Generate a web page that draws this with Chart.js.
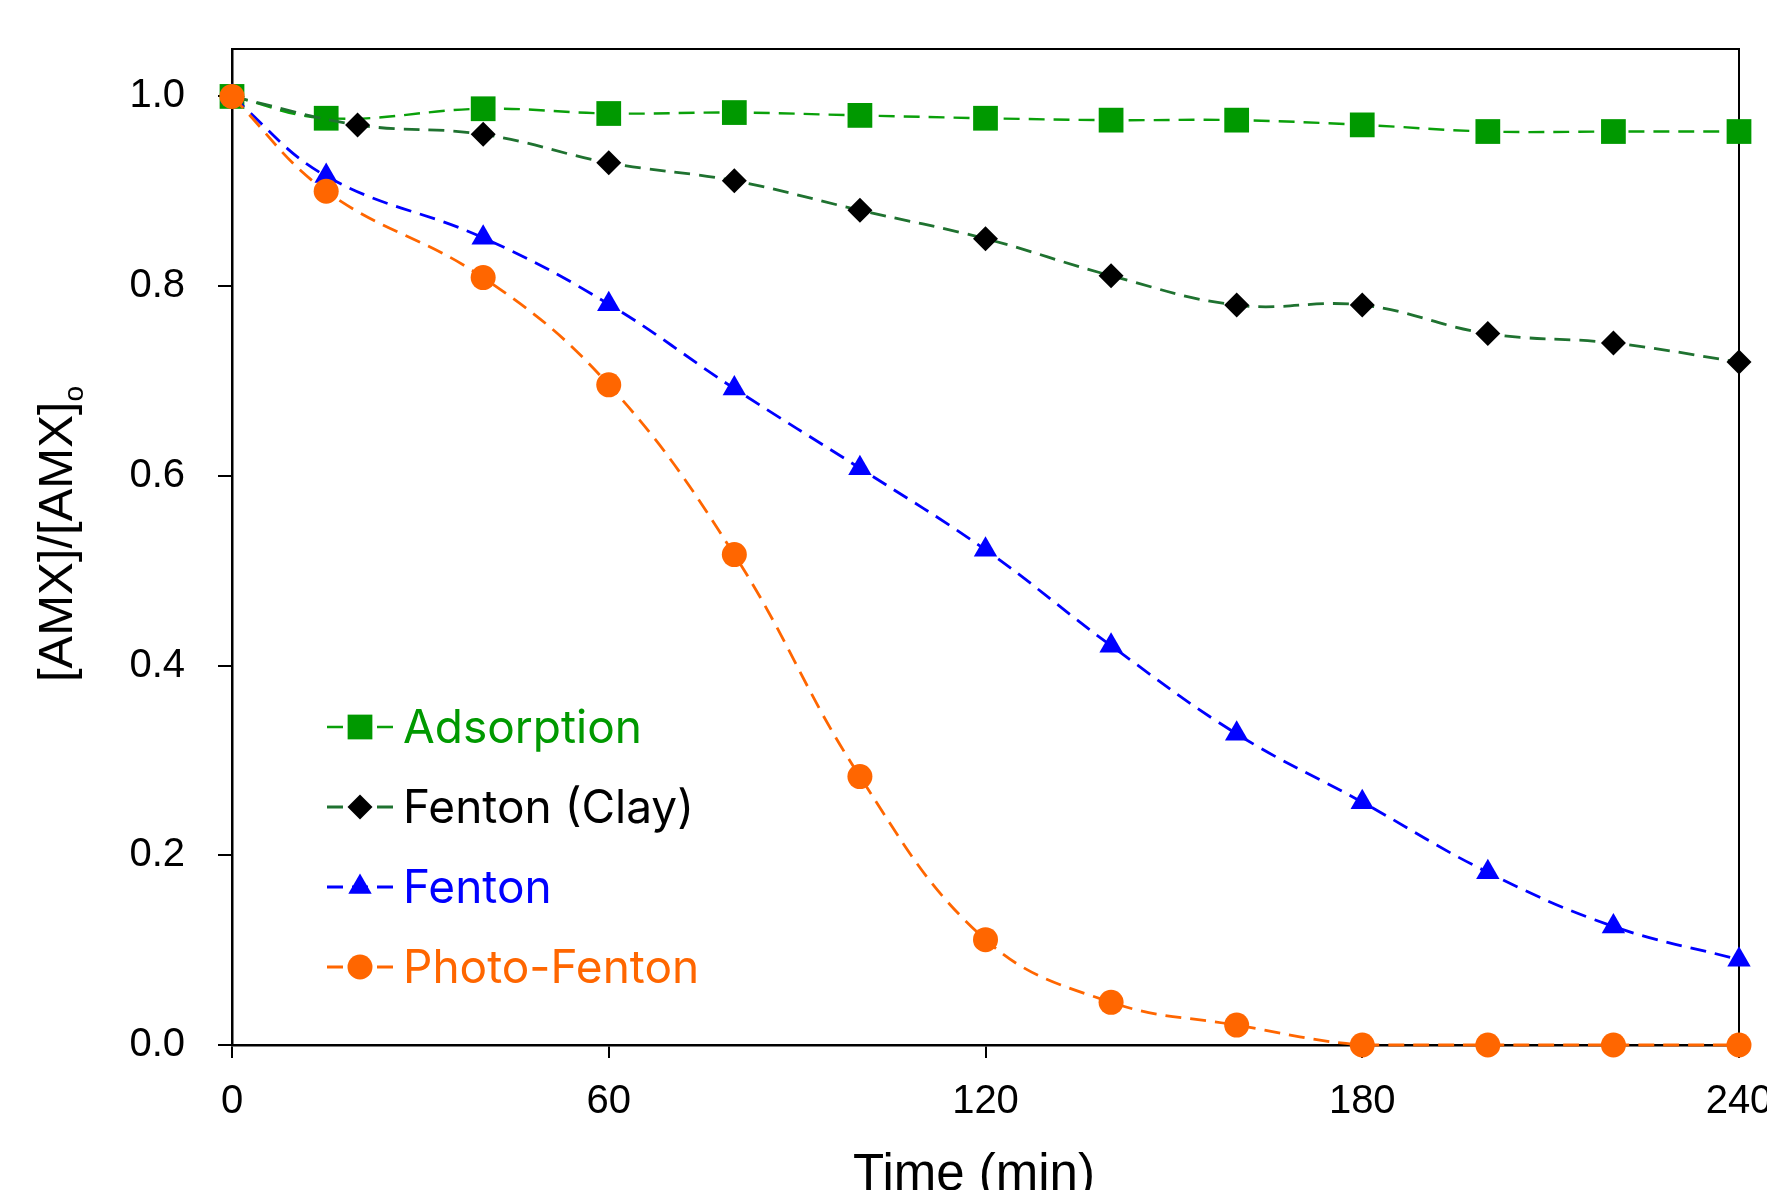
<!DOCTYPE html>
<html>
<head>
<meta charset="utf-8">
<script src="https://cdn.jsdelivr.net/npm/chart.js@4.4.1/dist/chart.umd.min.js"></script>
<style>
  html, body { margin: 0; padding: 0; background: #fff; overflow: hidden; }
  #wrap { width: 1800px; height: 1240px; }
</style>
</head>
<body>
<div id="wrap"><canvas id="chart" width="1800" height="1240"></canvas></div>
<script>
// sampling times (min) for each run
const timeAdsorption = [0, 15, 40, 60, 80, 100, 120, 140, 160, 180, 200, 220, 240];
const timeClay = [0, 20, 40, 60, 80, 100, 120, 140, 160, 180, 200, 220, 240];
const timeFenton = [0, 15, 40, 60, 80, 100, 120, 140, 160, 180, 200, 220, 240];
const timePhoto = [0, 15, 40, 60, 80, 100, 120, 140, 160, 180, 200, 220, 240];

// [AMX]/[AMX]o
const adsorption = [1.0, 0.977, 0.987, 0.982, 0.983, 0.980, 0.977, 0.975, 0.975, 0.970, 0.963, 0.963, 0.963];
const fentonClay = [1.0, 0.970, 0.960, 0.930, 0.911, 0.880, 0.850, 0.811, 0.780, 0.780, 0.750, 0.740, 0.720];
const fenton = [1.0, 0.916, 0.851, 0.781, 0.692, 0.608, 0.522, 0.421, 0.328, 0.256, 0.182, 0.125, 0.090];
const photoFenton = [1.0, 0.900, 0.809, 0.696, 0.517, 0.283, 0.111, 0.045, 0.021, 0.0, 0.0, 0.0, 0.0];

const seriesLabels = ['Adsorption', 'Fenton (Clay)', 'Fenton', 'Photo-Fenton'];
const xTicks = [0, 60, 120, 180, 240];
const yTicks = [0.0, 0.2, 0.4, 0.6, 0.8, 1.0];

const xTitle = 'Time (min)';
const yTitle = '[AMX]/[AMX]';
const yTitleSub = 'o';

const FONT = '"Liberation Sans", Arial, sans-serif';
const LEGEND_FONT = 'Inter, "Noto Sans", sans-serif';
const DASH = [16, 9];

function toPoints(xs, ys) {
    return xs.map((x, i) => ({ x: x, y: ys[i] }));
}

function series(label, xs, ys, opts) {
    return Object.assign({
        label: label,
        data: toPoints(xs, ys),
        showLine: true,
        borderDash: DASH,
        borderWidth: 2.8,
        tension: 0.4,
        clip: false,
        pointBorderWidth: 0,
        pointHoverRadius: 0
    }, opts);
}

const datasets = [
    series(seriesLabels[0], timeAdsorption, adsorption, {
        borderColor: '#0aa00a', borderWidth: 2.4,
        pointStyle: 'rect', pointRadius: 17.5,
        pointBackgroundColor: '#009900', pointBorderColor: '#009900',
        textColor: '#009900', order: 3
    }),
    series(seriesLabels[1], timeClay, fentonClay, {
        borderColor: '#1f7230',
        pointStyle: 'rectRot', pointRadius: 12.5,
        pointBackgroundColor: '#000000', pointBorderColor: '#000000',
        textColor: '#000000', order: 2
    }),
    series(seriesLabels[2], timeFenton, fenton, {
        borderColor: '#0000ff',
        pointStyle: 'triangle', pointRadius: 13.5,
        pointBackgroundColor: '#0000ff', pointBorderColor: '#0000ff',
        textColor: '#0000ff', order: 1
    }),
    series(seriesLabels[3], timePhoto, photoFenton, {
        borderColor: '#ff6600',
        pointStyle: 'circle', pointRadius: 12.5,
        pointBackgroundColor: '#ff6600', pointBorderColor: '#ff6600',
        textColor: '#ff6600', order: 0
    })
];

// box frame, axis titles and the in-plot legend
const decorPlugin = {
    id: 'decor',
    beforeDatasetsDraw(chart) {
        const { ctx, chartArea: a } = chart;
        ctx.save();
        ctx.strokeStyle = '#000';
        ctx.lineWidth = 2;
        ctx.beginPath();
        ctx.moveTo(a.left, a.top);
        ctx.lineTo(a.right, a.top);
        ctx.lineTo(a.right, a.bottom);
        ctx.stroke();
        ctx.restore();
    },
    afterDraw(chart) {
        const { ctx } = chart;
        ctx.save();
        ctx.fillStyle = '#000';

        // x title
        ctx.font = '51px ' + FONT;
        ctx.textAlign = 'center';
        ctx.textBaseline = 'alphabetic';
        ctx.fillText(xTitle, 974, 1190);

        // y title with subscript
        ctx.font = '49px ' + FONT;
        const mainW = ctx.measureText(yTitle).width;
        ctx.font = '28px ' + FONT;
        const subW = ctx.measureText(yTitleSub).width;
        const total = mainW + subW;
        ctx.translate(72, 534);
        ctx.rotate(-Math.PI / 2);
        ctx.textAlign = 'left';
        ctx.font = '49px ' + FONT;
        ctx.fillText(yTitle, -total / 2, 0);
        ctx.font = '28px ' + FONT;
        ctx.fillText(yTitleSub, -total / 2 + mainW, 11);
        ctx.restore();

        // legend
        const rowY0 = 727, rowStep = 80;
        const lineX0 = 327, lineX1 = 395, markX = 360, textX = 403;
        chart.data.datasets.forEach((ds, i) => {
            const y = rowY0 + i * rowStep;
            ctx.save();
            ctx.strokeStyle = ds.borderColor;
            ctx.lineWidth = ds.borderWidth;
            ctx.setLineDash(DASH);
            ctx.beginPath();
            ctx.moveTo(lineX0, y);
            ctx.lineTo(lineX1, y);
            ctx.stroke();
            ctx.setLineDash([]);
            ctx.fillStyle = ds.pointBackgroundColor;
            ctx.strokeStyle = ds.pointBorderColor;
            Chart.helpers.drawPoint(ctx, {
                pointStyle: ds.pointStyle,
                radius: ds.pointRadius,
                rotation: 0,
                borderWidth: 0
            }, markX, y);
            ctx.fillStyle = ds.textColor;
            ctx.font = '46px ' + LEGEND_FONT;
            ctx.textAlign = 'left';
            ctx.textBaseline = 'alphabetic';
            ctx.fillText(ds.label, textX, y + 16);
            ctx.restore();
        });
    }
};

function zeroPad(scale) {
    scale.paddingLeft = 0;
    scale.paddingRight = 0;
    scale.paddingTop = 0;
    scale.paddingBottom = 0;
}

new Chart(document.getElementById('chart'), {
    type: 'line',
    data: { datasets: datasets },
    options: {
        responsive: false,
        devicePixelRatio: 1,
        animation: false,
        events: [],
        layout: { padding: { left: 0, top: 49, right: 61, bottom: 0 } },
        plugins: {
            legend: { display: false },
            tooltip: { enabled: false },
            title: { display: false }
        },
        scales: {
            x: {
                type: 'linear',
                min: 0,
                max: 240,
                afterBuildTicks(scale) {
                    scale.ticks = xTicks.map(v => ({ value: v }));
                },
                afterFit(scale) {
                    scale.height = 195;
                    zeroPad(scale);
                },
                grid: {
                    drawOnChartArea: false,
                    drawTicks: true,
                    tickLength: 13,
                    color: '#000',
                    lineWidth: 2
                },
                border: { display: true, color: '#000', width: 2.5 },
                ticks: {
                    color: '#000',
                    padding: 20,
                    maxRotation: 0,
                    font: { family: FONT, size: 40 },
                    callback: v => String(v)
                }
            },
            y: {
                type: 'linear',
                min: 0,
                max: 1.05,
                afterBuildTicks(scale) {
                    scale.ticks = yTicks.map(v => ({ value: v }));
                },
                afterFit(scale) {
                    scale.width = 232;
                    zeroPad(scale);
                },
                grid: {
                    drawOnChartArea: false,
                    drawTicks: true,
                    tickLength: 14,
                    color: '#000',
                    lineWidth: 2
                },
                border: { display: true, color: '#000', width: 2.5 },
                ticks: {
                    color: '#000',
                    padding: 33,
                    font: { family: FONT, size: 40 },
                    callback: v => v.toFixed(1)
                }
            }
        }
    },
    plugins: [decorPlugin]
});
</script>
</body>
</html>
